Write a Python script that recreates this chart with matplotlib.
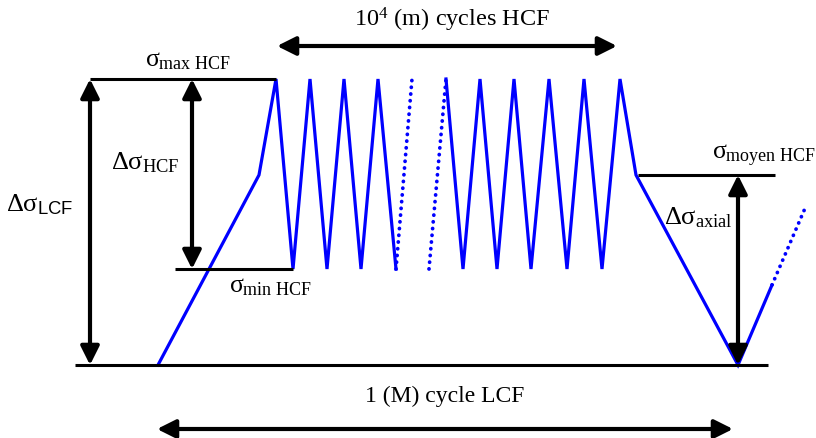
import matplotlib
matplotlib.use("Agg")
import matplotlib.pyplot as plt

plt.rcParams['mathtext.fontset'] = 'custom'
plt.rcParams['mathtext.rm'] = 'Liberation Serif'
plt.rcParams['mathtext.it'] = 'Liberation Serif'
plt.rcParams['mathtext.bf'] = 'Liberation Serif:bold'
plt.rcParams['mathtext.sf'] = 'Liberation Sans'
plt.rcParams['font.family'] = ['Liberation Serif', 'DejaVu Serif']

# ---- schematic data (pixel space of the diagram) ----
# stress levels
y_base = 366
y_max = 80
y_min = 270
y_moyen = 176

# loading path: LCF ramp, HCF cycles (first block), dotted, HCF (second block), unloading
ramp_up_x = [158, 259]
ramp_up_y = [y_base, y_moyen]
hcf1_x = [259, 276, 293, 310, 327, 344, 361, 378, 396]
hcf1_y = [y_moyen, y_max, y_min, y_max, y_min, y_max, y_min, y_max, y_min]
dot1_x = [396, 412]
dot1_y = [y_min, y_max]
dot2_x = [429, 446]
dot2_y = [y_min, y_max]
hcf2_x = [446, 463, 480, 497, 514, 531, 549, 567, 584, 602, 620, 636]
hcf2_y = [y_max, y_min, y_max, y_min, y_max, y_min, y_max, y_min, y_max, y_min, y_max, y_moyen]
ramp_down_x = [636, 738, 772]
ramp_down_y = [y_moyen, y_base, 286]
dot3_x = [772, 806]
dot3_y = [286, 207]

# reference lines: (x0, x1, y)
ref_lines = [(75, 768, y_base), (90, 276, y_max), (175, 293, y_min), (638, 775, y_moyen)]

# double arrows: ((x0, y0), (x1, y1))
arrows = [((90, y_max), (90, y_base)),
          ((192, y_max), (192, y_min)),
          ((738, y_moyen), (738, y_base)),
          ((277, 47), (617, 47)),
          ((157, 430), (733, 430))]

# labels: (x, y, text, size)
labels = [(188, 61, r'$\sigma_{\mathrm{max\ HCF}}$', 18.5),
          (145, 163, r'$\Delta\sigma_{\mathrm{HCF}}$', 19),
          (40, 205, r'$\Delta\sigma_{\mathsf{LCF}}$', 19),
          (270, 287, r'$\sigma_{\mathrm{min\ HCF}}$', 18.5),
          (764, 156, r'$\sigma_{\mathrm{moyen\ HCF}}$', 18.5),
          (698, 218, r'$\Delta\sigma_{\mathrm{axial}}$', 19),
          (452, 20, r'$\mathrm{10^{4}\ (m)\ cycles\ HCF}$', 17.5),
          (445, 396, '1 (M) cycle LCF', 17)]

W, H = 816, 439
fig = plt.figure(figsize=(W / 100, H / 100), dpi=100)
ax = fig.add_axes([0, 0, 1, 1])
ax.set_xlim(0, W)
ax.set_ylim(H, 0)
ax.axis('off')

blue = '#0000ff'
lw_b = 2.3
solid_x = ramp_up_x + hcf1_x[1:]
solid_y = ramp_up_y + hcf1_y[1:]
ax.plot(solid_x, solid_y, color=blue, lw=lw_b, solid_joinstyle='miter')
ax.plot(hcf2_x + ramp_down_x[1:], hcf2_y + ramp_down_y[1:], color=blue, lw=lw_b, solid_joinstyle='miter')
for dx, dy in [(dot1_x, dot1_y), (dot2_x, dot2_y), (dot3_x, dot3_y)]:
    ax.plot(dx, dy, color=blue, lw=2.7, linestyle=(0, (0.05, 1.75)), dash_capstyle='round')

for x0, x1, y in ref_lines:
    ax.plot([x0, x1], [y, y], color='black', lw=2.2, solid_capstyle='butt')

for (x0, y0), (x1, y1) in arrows:
    ax.annotate('', xy=(x1, y1), xytext=(x0, y0),
                arrowprops=dict(arrowstyle='<|-|>', color='black', lw=3,
                                mutation_scale=28, shrinkA=0, shrinkB=0))

for x, y, t, s in labels:
    ax.text(x, y, t, ha='center', va='center', fontsize=s, color='black')

fig.savefig('out.png', dpi=100)
